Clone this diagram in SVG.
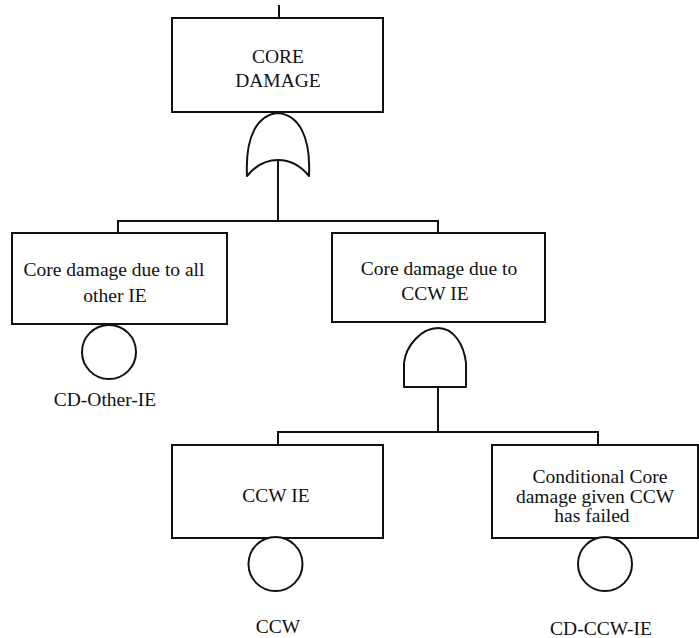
<svg xmlns="http://www.w3.org/2000/svg" width="699" height="638" viewBox="0 0 699 638">
  <style>
    .box { fill: #fff; stroke: #111; stroke-width: 2; }
    .gate { fill: #fff; stroke: #111; stroke-width: 2; stroke-linejoin: round; }
    .wire { fill: none; stroke: #111; stroke-width: 2; }
    .t { font-family: 'Liberation Serif', 'DejaVu Serif', serif; font-size: 19.5px; fill: #111; text-anchor: middle; }
  </style>
  <rect width="699" height="638" fill="#fff"/>

  <!-- connectors -->
  <g id="connectors">
    <path class="wire" d="M279 5 V18"/>
    <path class="wire" d="M278 160 V221"/>
    <path class="wire" d="M118 233 V221 H438 V233"/>
    <path class="wire" d="M438 387 V432"/>
    <path class="wire" d="M278 445 V432 H598 V445"/>
  </g>

  <!-- top event -->
  <g id="core-damage">
    <rect class="box" x="172" y="18" width="211" height="94"/>
    <text class="t" font-family="Liberation Serif, serif" x="278" y="63">CORE</text>
    <text class="t" font-family="Liberation Serif, serif" x="278" y="87">DAMAGE</text>
  </g>

  <!-- OR gate under top event -->
  <g id="or-gate">
    <path class="gate" d="M278 113 C298 115 311 135 309 176 Q296 160 278 160 Q260 160 247 176 C245 135 258 115 278 113 Z"/>
  </g>

  <g id="cd-other-ie">
    <rect class="box" x="12" y="233" width="215" height="91"/>
    <text class="t" x="114" y="276">Core damage due to all</text>
    <text class="t" x="115" y="302">other IE</text>
    <circle class="gate" cx="109" cy="352" r="27"/>
    <text class="t" x="105" y="406">CD-Other-IE</text>
  </g>

  <g id="cd-ccw-ie">
    <rect class="box" x="332" y="233" width="213" height="89"/>
    <text class="t" x="439" y="275">Core damage due to</text>
    <text class="t" x="435" y="300">CCW IE</text>
  </g>

  <!-- AND gate under CCW branch -->
  <g id="and-gate">
    <path class="gate" d="M404 387 V363 C406 345 422 328 438 328 C454 328 464 345 466 363 V387 Z"/>
  </g>

  <g id="ccw">
    <rect class="box" x="172" y="445" width="211" height="93"/>
    <text class="t" x="276" y="502">CCW IE</text>
    <circle class="gate" cx="275.5" cy="564" r="27"/>
    <text class="t" x="278" y="633">CCW</text>
  </g>

  <g id="conditional-cd">
    <rect class="box" x="492" y="445" width="206" height="93"/>
    <text class="t" x="600" y="483">Conditional Core</text>
    <text class="t" x="595" y="503">damage given CCW</text>
    <text class="t" x="592" y="522">has failed</text>
    <circle class="gate" cx="605" cy="564" r="27"/>
    <text class="t" x="601" y="635">CD-CCW-IE</text>
  </g>
</svg>
